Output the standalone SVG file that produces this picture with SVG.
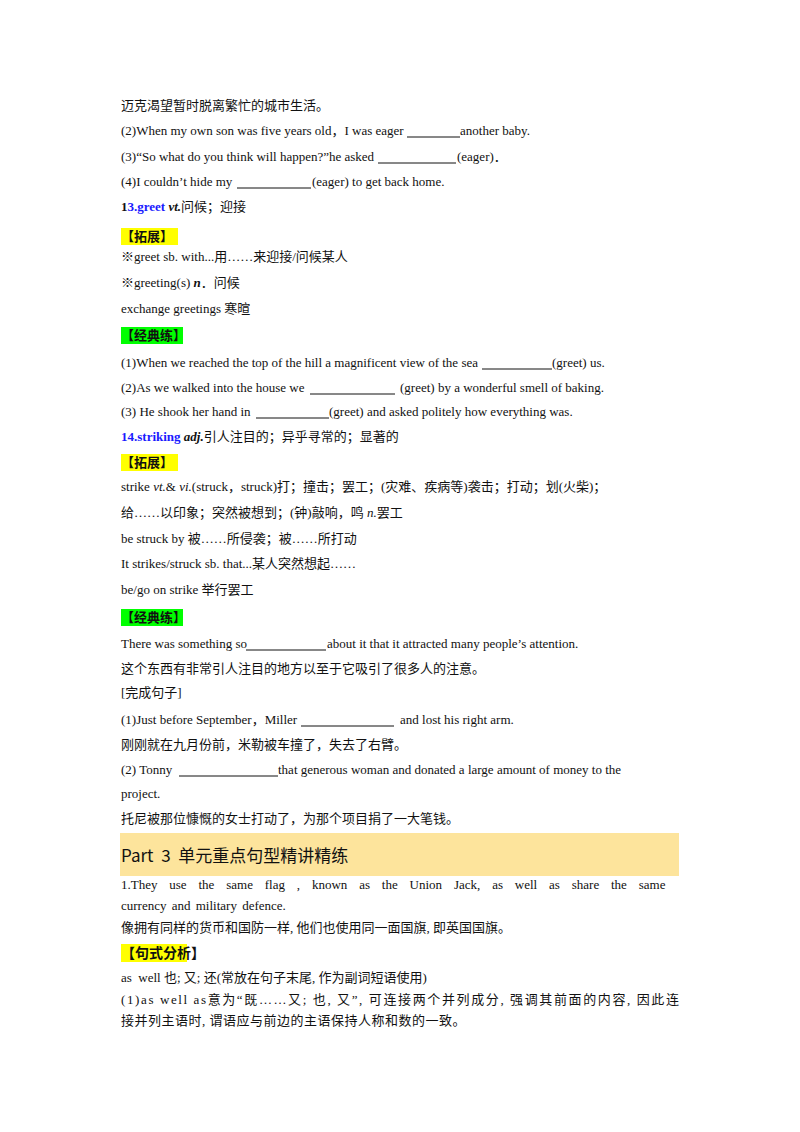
<svg xmlns="http://www.w3.org/2000/svg" width="800" height="1132" viewBox="0 0 800 1132">
<style>
text{font-family:"Liberation Serif","Noto Sans CJK SC",serif;font-size:13px;fill:#111}
.b{font-weight:bold}
.blue{fill:#1a1aff;font-weight:bold}
.u{stroke:#111;stroke-width:1}
.y{fill:#ffff00}
.g{fill:#00ff00}
.h{font-family:"Noto Sans CJK SC",sans-serif;font-weight:bold;font-size:13px}
</style>
<rect width="800" height="1132" fill="#fff"/>
<g id="sec12">
<text x="121" y="110">迈克渴望暂时脱离繁忙的城市生活。</text>
<text x="121" y="135">(2)When my own son was five years old，I was eager</text>
<line class="u" x1="407" y1="137" x2="460" y2="137"/>
<text x="460" y="135">another baby.</text>
<text x="121" y="161">(3)“So what do you think will happen?”he asked</text>
<line class="u" x1="378" y1="163" x2="456" y2="163"/>
<text x="457" y="161">(eager)．</text>
<text x="121" y="186">(4)I couldn’t hide my</text>
<line class="u" x1="237" y1="188" x2="311" y2="188"/>
<text x="312" y="186">(eager) to get back home.</text>
</g>
<g id="sec13">
<text x="121" y="211"><tspan class="b">1</tspan><tspan class="blue">3.greet</tspan><tspan class="b" font-style="italic"> vt.</tspan>问候；迎接</text>
<rect class="y" x="121" y="228" width="57" height="17"/>
<text class="h" x="121" y="241">【拓展】</text>
<text x="121" y="261">※greet sb. with...用……来迎接/问候某人</text>
<text x="121" y="287">※greeting(s) <tspan font-style="italic" font-weight="bold">n</tspan>．问候</text>
<text x="121" y="313">exchange greetings 寒暄</text>
<rect class="g" x="121" y="327" width="62" height="17"/>
<text class="h" x="121" y="340">【经典练】</text>
<text x="121" y="367">(1)When we reached the top of the hill a magnificent view of the sea</text>
<line class="u" x1="482" y1="369" x2="552" y2="369"/>
<text x="552" y="367">(greet) us.</text>
<text x="121" y="392">(2)As we walked into the house we</text>
<line class="u" x1="310" y1="394" x2="395" y2="394"/>
<text x="400" y="392">(greet) by a wonderful smell of baking.</text>
<text x="121" y="416">(3) He shook her hand in</text>
<line class="u" x1="256" y1="418" x2="329" y2="418"/>
<text x="329" y="416">(greet) and asked politely how everything was.</text>
</g>
<g id="sec14">
<text x="121" y="441"><tspan class="blue">14.striking</tspan><tspan class="b" font-style="italic"> adj.</tspan>引人注目的；异乎寻常的；显著的</text>
<rect class="y" x="121" y="454" width="57" height="17"/>
<text class="h" x="121" y="467">【拓展】</text>
<text x="121" y="491">strike <tspan font-style="italic">vt.</tspan>&amp; <tspan font-style="italic">vi.</tspan>(struck，struck)打；撞击；罢工；(灾难、疾病等)袭击；打动；划(火柴)；</text>
<text x="121" y="517">给……以印象；突然被想到；(钟)敲响，鸣 <tspan font-style="italic">n.</tspan>罢工</text>
<text x="121" y="543">be struck by 被……所侵袭；被……所打动</text>
<text x="121" y="568">It strikes/struck sb. that...某人突然想起……</text>
<text x="121" y="594">be/go on strike 举行罢工</text>
<rect class="g" x="121" y="609" width="62" height="17"/>
<text class="h" x="121" y="622">【经典练】</text>
<text x="121" y="648">There was something so</text>
<line class="u" x1="246" y1="650" x2="326" y2="650"/>
<text x="327" y="648">about it that it attracted many people’s attention.</text>
<text x="121" y="673">这个东西有非常引人注目的地方以至于它吸引了很多人的注意。</text>
<text x="121" y="697">[完成句子]</text>
<text x="121" y="724">(1)Just before September，Miller</text>
<line class="u" x1="301" y1="726" x2="394" y2="726"/>
<text x="400" y="724">and lost his right arm.</text>
<text x="121" y="749">刚刚就在九月份前，米勒被车撞了，失去了右臂。</text>
<text x="121" y="774">(2) Tonny</text>
<line class="u" x1="179" y1="776" x2="278" y2="776"/>
<text x="278" y="774">that generous woman and donated a large amount of money to the</text>
<text x="121" y="798">project.</text>
<text x="121" y="823">托尼被那位慷慨的女士打动了，为那个项目捐了一大笔钱。</text>
</g>
<g id="part3">
<rect x="120" y="833" width="559" height="43" fill="#fde49c"/>
<text x="121" y="862" style="font-family:'Noto Sans CJK SC',sans-serif;font-size:17px" xml:space="preserve">Part  3  单元重点句型精讲精练</text>
<text x="121" y="889" word-spacing="8.6">1.They use the same flag , known as the Union Jack,  as well as share the same</text>
<text x="121" y="910" word-spacing="2">currency and military defence.</text>
<text x="121" y="932">像拥有同样的货币和国防一样, 他们也使用同一面国旗, 即英国国旗。</text>
<rect class="y" x="121" y="944" width="66" height="18"/>
<text class="h" x="121" y="958" style="font-size:14px">【句式分析】</text>
<text x="121" y="982" xml:space="preserve">as  well 也; 又; 还(常放在句子末尾, 作为副词短语使用)</text>
<text x="121" y="1004" textLength="558" lengthAdjust="spacing">(1)as well as意为“既……又; 也, 又”, 可连接两个并列成分, 强调其前面的内容, 因此连</text>
<text x="121" y="1025" letter-spacing="0.5">接并列主语时, 谓语应与前边的主语保持人称和数的一致。</text>
</g>
</svg>
